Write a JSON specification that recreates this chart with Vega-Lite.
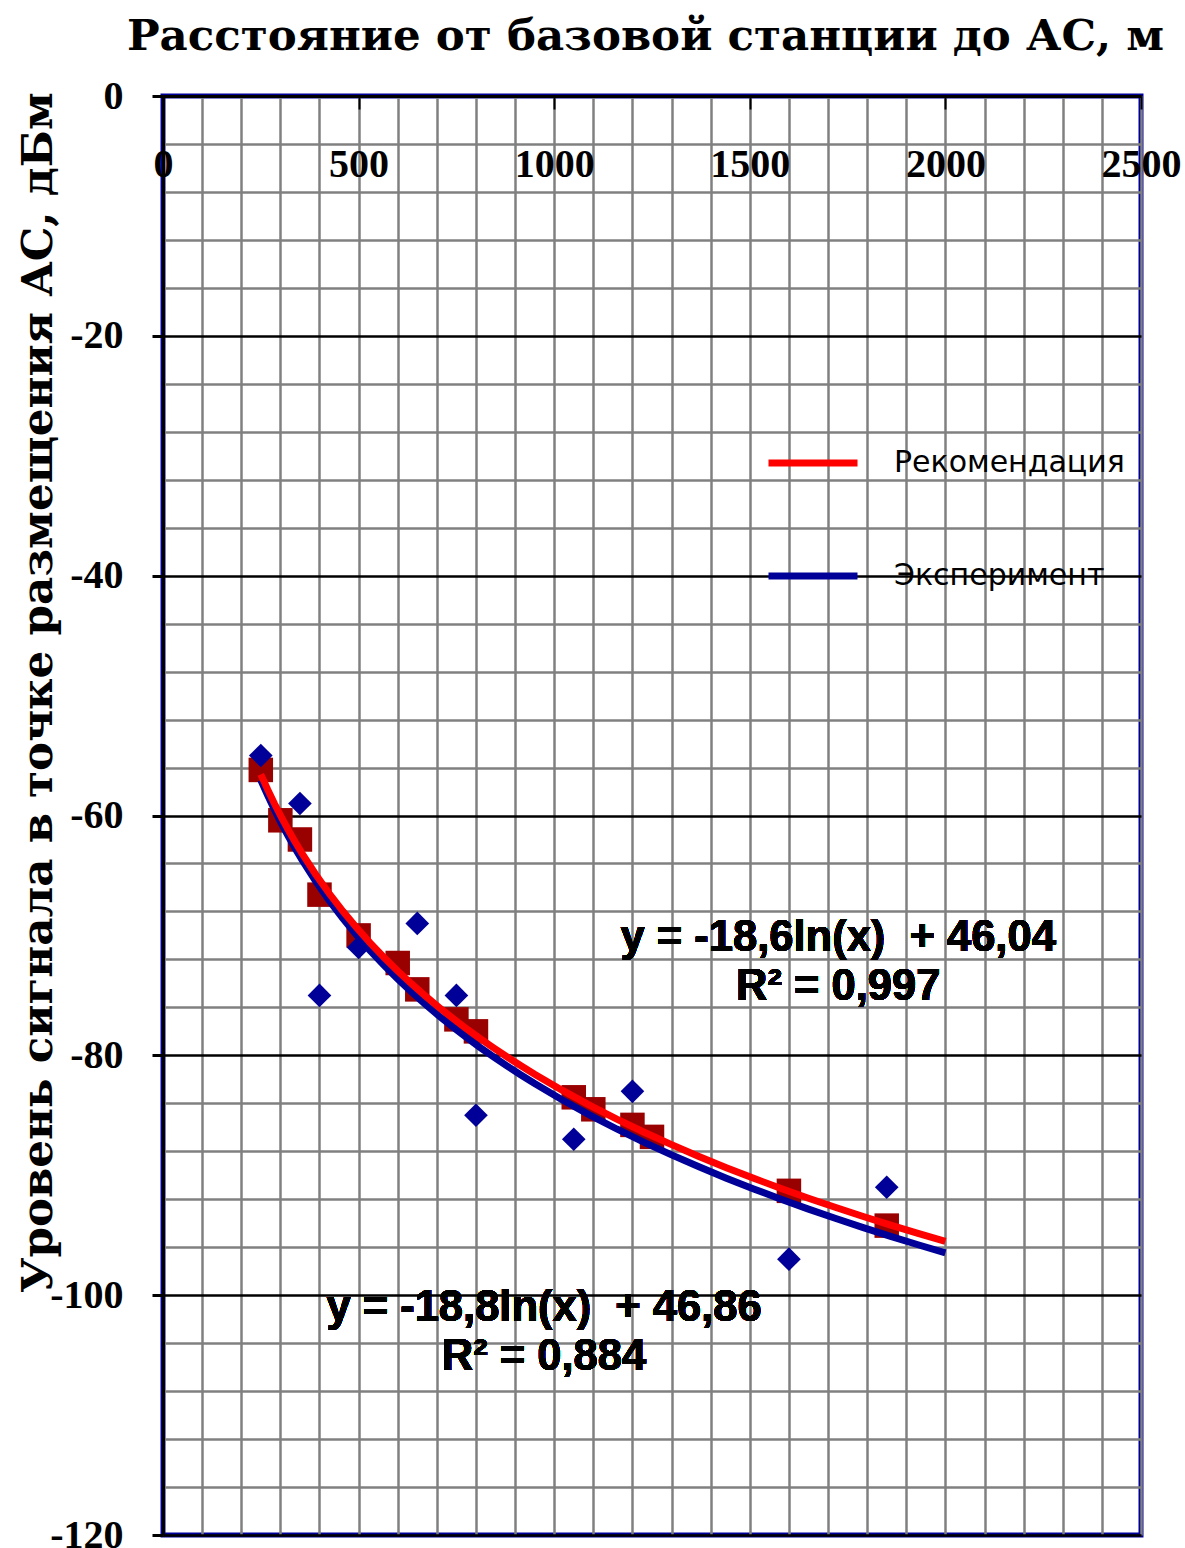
{
  "$schema": "https://vega.github.io/schema/vega-lite/v6.json",
  "width": 978,
  "height": 1439,
  "autosize": {"type": "none"},
  "padding": {"left": 163, "top": 96, "right": 44, "bottom": 13},
  "background": "white",
  "config": {"view": {"stroke": "#000099", "strokeWidth": 5}},
  "data": {
    "values": [
      {"series": "Рекомендация", "x": 250, "y": -56.2},
      {"series": "Рекомендация", "x": 300, "y": -60.4},
      {"series": "Рекомендация", "x": 350, "y": -62},
      {"series": "Рекомендация", "x": 400, "y": -66.6},
      {"series": "Рекомендация", "x": 500, "y": -70},
      {"series": "Рекомендация", "x": 600, "y": -72.3},
      {"series": "Рекомендация", "x": 650, "y": -74.5},
      {"series": "Рекомендация", "x": 750, "y": -77},
      {"series": "Рекомендация", "x": 800, "y": -78},
      {"series": "Рекомендация", "x": 1050, "y": -83.5},
      {"series": "Рекомендация", "x": 1100, "y": -84.5},
      {"series": "Рекомендация", "x": 1200, "y": -85.8},
      {"series": "Рекомендация", "x": 1250, "y": -86.8},
      {"series": "Рекомендация", "x": 1600, "y": -91.3},
      {"series": "Рекомендация", "x": 1850, "y": -94.2},
      {"series": "Эксперимент", "x": 250, "y": -55},
      {"series": "Эксперимент", "x": 350, "y": -59},
      {"series": "Эксперимент", "x": 400, "y": -75},
      {"series": "Эксперимент", "x": 500, "y": -71},
      {"series": "Эксперимент", "x": 650, "y": -69},
      {"series": "Эксперимент", "x": 750, "y": -75},
      {"series": "Эксперимент", "x": 800, "y": -85},
      {"series": "Эксперимент", "x": 1050, "y": -87},
      {"series": "Эксперимент", "x": 1200, "y": -83},
      {"series": "Эксперимент", "x": 1600, "y": -97},
      {"series": "Эксперимент", "x": 1850, "y": -91}
    ]
  },
  "encoding": {
    "x": {
      "field": "x",
      "type": "quantitative",
      "scale": {"domain": [0, 2500], "nice": false, "zero": false},
      "axis": {
        "orient": "top",
        "values": [0,100,200,300,400,500,600,700,800,900,1000,1100,1200,1300,1400,1500,1600,1700,1800,1900,2000,2100,2200,2300,2400,2500],
        "title": "Расстояние от базовой станции до АС, м",
        "titleFont": "DejaVu Serif",
        "titleFontSize": 43.5,
        "titleFontWeight": "bold",
        "titleColor": "black",
        "titleX": 482,
        "titleY": -47,
        "titleBaseline": "alphabetic",
        "titleAlign": "center",
        "labelExpr": "datum.value % 500 === 0 ? '' + datum.value : ''",
        "labelFont": "Liberation Serif",
        "labelFontSize": 40,
        "labelFontWeight": "bold",
        "labelColor": "black",
        "labelBaseline": "middle",
        "labelPadding": -55,
        "labelOverlap": false,
        "labelBound": false,
        "labelFlush": false,
        "tickSize": -13,
        "tickWidth": 2,
        "tickColor": {"condition": {"test": "datum.value % 500 === 0", "value": "black"}, "value": "transparent"},
        "domainColor": "black",
        "domainWidth": 3,
        "grid": true,
        "gridColor": "#808080",
        "gridWidth": 2.5,
        "gridOpacity": 1
      }
    },
    "y": {
      "field": "y",
      "type": "quantitative",
      "scale": {"domain": [-120, 0], "nice": false, "zero": false},
      "axis": {
        "values": [0,-4,-8,-12,-16,-20,-24,-28,-32,-36,-40,-44,-48,-52,-56,-60,-64,-68,-72,-76,-80,-84,-88,-92,-96,-100,-104,-108,-112,-116,-120],
        "title": "Уровень сигнала в точке размещения АС, дБм",
        "titleFont": "DejaVu Serif",
        "titleFontSize": 43.6,
        "titleFontWeight": "bold",
        "titleColor": "black",
        "titleX": -112,
        "titleY": 596,
        "titleAngle": -90,
        "titleBaseline": "alphabetic",
        "titleAlign": "center",
        "labelExpr": "datum.value % 20 === 0 ? '' + datum.value : ''",
        "labelFont": "Liberation Serif",
        "labelFontSize": 40,
        "labelFontWeight": "bold",
        "labelColor": "black",
        "labelPadding": 29,
        "labelOverlap": false,
        "labelBound": false,
        "labelFlush": false,
        "tickSize": 11,
        "tickWidth": 3,
        "tickColor": {"condition": {"test": "datum.value % 20 === 0", "value": "black"}, "value": "transparent"},
        "domainColor": "black",
        "domainWidth": 3,
        "grid": true,
        "gridColor": {"condition": {"test": "datum.value % 20 === 0", "value": "black"}, "value": "#808080"},
        "gridWidth": 2.5,
        "gridOpacity": 1
      }
    }
  },
  "layer": [
    {
      "transform": [{"filter": "datum.series === 'Рекомендация'"}],
      "mark": {"type": "point", "shape": "square", "filled": true, "color": "#990000", "size": 600, "opacity": 1}
    },
    {
      "transform": [{"filter": "datum.series === 'Эксперимент'"}],
      "mark": {"type": "point", "shape": "diamond", "filled": true, "color": "#000099", "size": 560, "opacity": 1}
    },
    {
      "transform": [
        {"filter": "datum.series === 'Эксперимент'"},
        {"regression": "y", "on": "x", "method": "log", "groupby": ["series"], "extent": [250, 2000]}
      ],
      "mark": {"type": "line", "strokeWidth": 7},
      "encoding": {
        "color": {
          "field": "series",
          "type": "nominal",
          "scale": {"domain": ["Рекомендация", "Эксперимент"], "range": ["#FF0000", "#000099"]},
          "legend": {
            "orient": "none",
            "legendX": 602,
            "legendY": 319,
            "title": null,
            "symbolType": "stroke",
            "symbolSize": 7921,
            "symbolStrokeWidth": 7,
            "labelFont": "DejaVu Sans",
            "labelFontSize": 30,
            "labelColor": "black",
            "labelOffset": 33,
            "labelLimit": 400,
            "rowPadding": 50,
            "padding": 0
          }
        }
      }
    },
    {
      "transform": [
        {"filter": "datum.series === 'Рекомендация'"},
        {"regression": "y", "on": "x", "method": "log", "groupby": ["series"], "extent": [250, 2000]}
      ],
      "mark": {"type": "line", "strokeWidth": 7},
      "encoding": {"color": {"field": "series", "type": "nominal"}}
    },
    {
      "mark": {"type": "text", "font": "Liberation Sans", "fontWeight": "bold", "fontSize": 43.5, "lineHeight": 49, "align": "center", "baseline": "middle", "color": "black"},
      "encoding": {
        "x": {"datum": 1726},
        "y": {"datum": -70.2},
        "text": {"value": ["y = -18,6ln(x) \u00a0+ 46,04", "R² = 0,997"]}
      }
    },
    {
      "mark": {"type": "text", "font": "Liberation Sans", "fontWeight": "bold", "fontSize": 43.5, "lineHeight": 49, "align": "center", "baseline": "middle", "color": "black"},
      "encoding": {
        "x": {"datum": 974},
        "y": {"datum": -101.1},
        "text": {"value": ["y = -18,8ln(x) \u00a0+ 46,86", "R² = 0,884"]}
      }
    }
  ]
}
